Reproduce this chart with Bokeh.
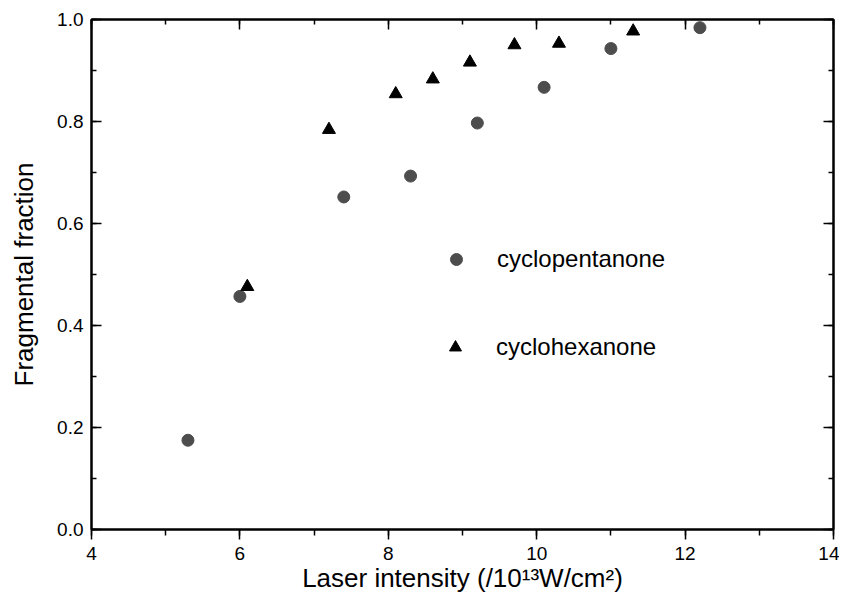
from bokeh.plotting import figure
from bokeh.models import (Range1d, LinearAxis, Legend, LegendItem,
                          SingleIntervalTicker, NumeralTickFormatter)
from bokeh.embed import file_html
from bokeh.resources import INLINE

# ---- data ----
pentanone_x = [5.3, 6.0, 7.4, 8.3, 9.2, 10.1, 11.0, 12.2]
pentanone_y = [0.175, 0.457, 0.652, 0.693, 0.797, 0.867, 0.943, 0.984]
hexanone_x = [6.1, 7.2, 8.1, 8.6, 9.1, 9.7, 10.3, 11.3]
hexanone_y = [0.476, 0.784, 0.854, 0.883, 0.916, 0.950, 0.953, 0.977]
series_names = ["cyclopentanone", "cyclohexanone"]
x_label = "Laser intensity (/10\u00b9\u00b3W/cm\u00b2)"
y_label = "Fragmental fraction"

FONT = "Liberation Sans"

p = figure(width=839, height=599, output_backend="svg", toolbar_location=None,
           x_range=Range1d(4, 14), y_range=Range1d(0, 1),
           min_border_left=91, min_border_right=6, min_border_top=19,
           min_border_bottom=70, x_axis_label=x_label, y_axis_label=y_label)
p.grid.visible = False
p.outline_line_color = "black"
p.outline_line_width = 2
p.background_fill_color = "white"
p.border_fill_color = "white"

xt = SingleIntervalTicker(interval=2, num_minor_ticks=2)
yt = SingleIntervalTicker(interval=0.2, num_minor_ticks=2)

xa = p.xaxis[0]
xa.ticker = xt
xa.major_tick_in = 0
xa.major_tick_out = 10
xa.minor_tick_in = 0
xa.minor_tick_out = 6
xa.major_label_standoff = 7
xa.axis_label_standoff = 0

ya = p.yaxis[0]
ya.ticker = yt
ya.formatter = NumeralTickFormatter(format="0.0")
ya.major_tick_in = 10
ya.major_tick_out = 0
ya.minor_tick_in = 5
ya.minor_tick_out = 0
ya.major_label_standoff = 8
ya.axis_label_standoff = 15

for ax in (xa, ya):
    ax.axis_line_width = 2
    ax.major_tick_line_width = 1.5
    ax.minor_tick_line_width = 1.5
    ax.major_label_text_font = FONT
    ax.major_label_text_font_size = "19px"
    ax.major_label_text_color = "black"
    ax.axis_label_text_font = FONT
    ax.axis_label_text_font_size = "26px"
    ax.axis_label_text_font_style = "normal"
    ax.axis_label_text_color = "black"

def frame_axis(interval):
    return LinearAxis(ticker=SingleIntervalTicker(interval=interval, num_minor_ticks=2),
                      major_label_text_font_size="0px", major_label_text_color=None,
                      major_label_standoff=0,
                      major_tick_in=10, major_tick_out=0, minor_tick_in=5, minor_tick_out=0,
                      axis_line_width=2, major_tick_line_width=1.5,
                      minor_tick_line_width=1.5)

p.add_layout(frame_axis(2), "above")
p.add_layout(frame_axis(0.2), "right")

r1 = p.scatter(pentanone_x, pentanone_y, marker="circle", size=12,
               fill_color="#4d4d4d", line_color="#4d4d4d")
r2 = p.scatter(hexanone_x, hexanone_y, marker="triangle", size=13,
               fill_color="black", line_color="black")

def make_legend(name, rend, loc):
    return Legend(items=[LegendItem(label=name, renderers=[rend])], location=loc,
                  border_line_color=None, background_fill_alpha=0, padding=0, margin=0,
                  glyph_width=30, glyph_height=30, label_height=30, label_standoff=26,
                  label_text_font=FONT, label_text_font_size="24px",
                  label_text_color="black")

p.add_layout(make_legend(series_names[0], r1, (350, 255)))
p.add_layout(make_legend(series_names[1], r2, (349, 167)))

open("out.html", "w").write(file_html(p, INLINE))
